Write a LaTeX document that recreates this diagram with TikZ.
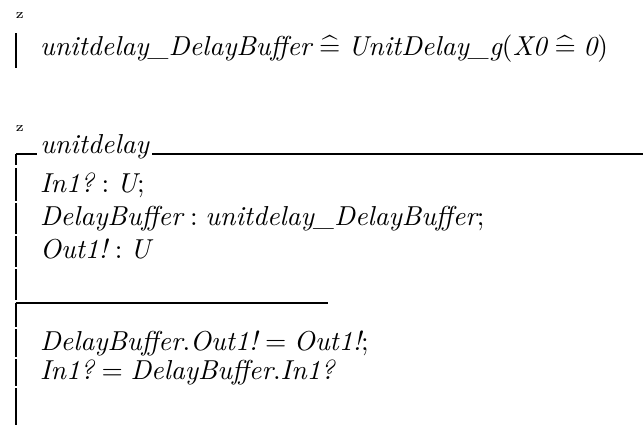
\documentclass[tikz,border=0pt]{standalone}
\usepackage{amsmath}
\tikzset{
  rule/.style={line width=0.75pt, line cap=butt},
  zline/.style={anchor=base west, inner sep=0pt, font=\normalsize},
  zmark/.style={anchor=base west, inner sep=0pt, font=\tiny},
}
\newcommand{\zdefs}{\mathrel{\widehat{=}}}
\newcommand{\zid}[1]{\textit{#1}}
\begin{document}
\begin{tikzpicture}[x=0.365pt, y=-0.365pt]
  \useasboundingbox (0,0) rectangle (643,425);

  % abbreviation: unitdelay_DelayBuffer
  \node[zmark] (z1) at (15,18) {z};
  \draw[rule] (16,33) -- (16,68);
  \node[zline] (abbr) at (39.5,55)
    {$\zid{unitdelay\_DelayBuffer} \zdefs \zid{UnitDelay\_g}(\zid{X0} \zdefs \zid{0})$};

  % schema unitdelay: header
  \node[zmark] (z2) at (15,131) {z};
  \node[zline, inner xsep=1pt] (hdr) at (37,153) {$\zid{unitdelay}$};
  \draw[rule] (15.6,154) -- (hdr.west |- 0,154);
  \draw[rule] (hdr.east |- 0,154) -- (643,154);
  \draw[rule] (16,154) -- (16,165);

  % declarations
  \node[zline] (d1) at (39.5,192) {$\zid{In1?} : \zid{U};$};
  \node[zline] (d2) at (39.5,225) {$\zid{DelayBuffer} : \zid{unitdelay\_DelayBuffer};$};
  \node[zline] (d3) at (39.5,258) {$\zid{Out1!} : \zid{U}$};
  \draw[rule] (16,168) -- (16,201);
  \draw[rule] (16,203) -- (16,234);
  \draw[rule] (16,236) -- (16,267);
  \draw[rule] (16,269) -- (16,300);

  % predicate separator
  \draw[rule] (15.6,303) -- (328,303);

  % predicates
  \node[zline] (p1) at (39.5,350) {$\zid{DelayBuffer}.\zid{Out1!} = \zid{Out1!};$};
  \node[zline] (p2) at (39.5,379) {$\zid{In1?} = \zid{DelayBuffer}.\zid{In1?}$};
  \draw[rule] (16,303) -- (16,327);
  \draw[rule] (16,329) -- (16,357);
  \draw[rule] (16,359) -- (16,386);
  \draw[rule] (16,388) -- (16,425);
\end{tikzpicture}
\end{document}
